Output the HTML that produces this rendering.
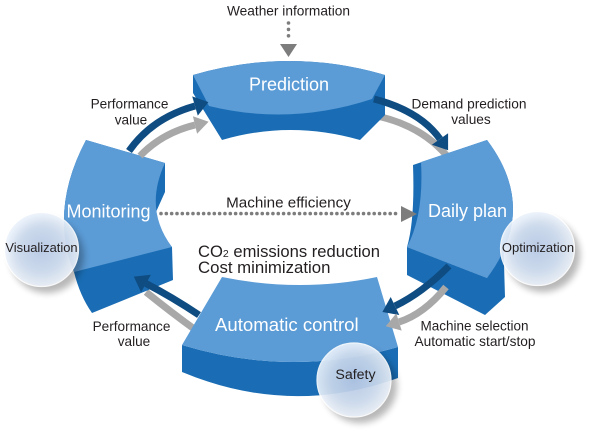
<!DOCTYPE html>
<html>
<head>
<meta charset="utf-8">
<style>
  html,body{margin:0;padding:0;background:#fff;}
  svg{display:block;}
  text{font-family:"Liberation Sans",Arial,sans-serif;}
</style>
</head>
<body>
<svg width="600" height="435" viewBox="0 0 600 435" xmlns="http://www.w3.org/2000/svg">
  <defs>
    <radialGradient id="cg" cx="50%" cy="50%" r="50%">
      <stop offset="0" stop-color="#bacdeb"/>
      <stop offset="0.6" stop-color="#cfdef2"/>
      <stop offset="1" stop-color="#edf3fb"/>
    </radialGradient>
    <filter id="sh" x="-50%" y="-50%" width="200%" height="200%">
      <feGaussianBlur stdDeviation="3.5"/>
    </filter>
  </defs>
  <rect width="600" height="435" fill="#ffffff"/>

  <!-- gray arrows behind blocks -->
  <path d="M372,115 Q420,124 447,156" fill="none" stroke="#a8a8a8" stroke-width="7"/>
  <path d="M197,331 Q172,313 146,292" fill="none" stroke="#a8a8a8" stroke-width="7"/>

  <!-- Prediction block -->
  <path d="M193,75 Q290,47 385,75 L385,115 L360,140 Q290,120 222,140 L193,93 Z" fill="#1a6db4"/>
  <path d="M193,75 Q290,47 385,75 L372,99 Q290,126 209,106 Z" fill="#5b9bd6"/>

  <!-- Monitoring block -->
  <path d="M86,140 L165,163 L165,192 L156,212 Q156,232 172,247 L173,280 L92,313 Q80,296 74,272 Q49,210 86,140 Z" fill="#1a6db4"/>
  <path d="M86,140 L165,163 Q143.5,209 172,247 L74,272 Q49,210 86,140 Z" fill="#5b9bd6"/>

  <!-- Daily plan block -->
  <path d="M413,165 L487,140 Q539,209 487,278 L407,247 Q415,220 413,165 Z" fill="#1a6db4"/>
  <path d="M407,247 L487,278 L503.6,250.4 L505,297 L485,315 L407,275 Z" fill="#1a6db4"/>
  <path d="M421,162 L487,140 Q539,209 487,278 L407,247 Q424,215 421,162 Z" fill="#5b9bd6"/>

  <!-- Automatic control block -->
  <path d="M182,345 Q290,378 398,347 L398,378 Q290,417 182,372 Z" fill="#1a6db4"/>
  <path d="M222,277 Q300.5,293 377,277 L398,347 Q290,378 182,345 Z" fill="#5b9bd6"/>

  <!-- arrows on top -->
  <!-- A dark -->
  <path d="M129,151 Q152,118 195,106" fill="none" stroke="#0e4c82" stroke-width="7"/>
  <polygon points="208.4,102.1 197.8,115.6 192.2,96.4" fill="#0e4c82"/>
  <!-- A gray -->
  <path d="M140,156 Q162,133 195,125" fill="none" stroke="#a8a8a8" stroke-width="7"/>
  <polygon points="208.6,121.7 197.1,133.7 192.9,116.3" fill="#a8a8a8"/>
  <!-- B dark -->
  <path d="M374,99 Q420,111 440,139" fill="none" stroke="#0e4c82" stroke-width="7"/>
  <polygon points="448.1,150.3 448.1,133.2 431.9,144.8" fill="#0e4c82"/>
  <!-- C dark -->
  <path d="M449,266 Q422,293 395,306" fill="none" stroke="#0e4c82" stroke-width="7"/>
  <polygon points="382.4,312 399.3,315 390.7,297" fill="#0e4c82"/>
  <!-- C gray -->
  <path d="M446,287 Q424,314 399,322" fill="none" stroke="#a8a8a8" stroke-width="7"/>
  <polygon points="385.7,326.3 401.7,330.6 396.3,313.4" fill="#a8a8a8"/>
  <!-- D dark -->
  <path d="M199,315 Q172,297 146,283.5" fill="none" stroke="#0e4c82" stroke-width="7"/>
  <polygon points="133.8,276.6 150.9,274.8 141.1,292.2" fill="#0e4c82"/>

  <!-- dotted arrows -->
  <line x1="161" y1="213.6" x2="398" y2="213.6" stroke="#7d7d7d" stroke-width="3.6" stroke-linecap="round" stroke-dasharray="0 5.33"/>
  <polygon points="401,206 401,222 417,214" fill="#7d7d7d"/>
  <line x1="288.5" y1="23" x2="288.5" y2="42" stroke="#7d7d7d" stroke-width="3.6" stroke-linecap="round" stroke-dasharray="0 6.4"/>
  <polygon points="280,44 297,44 288.5,57" fill="#7d7d7d"/>

  <!-- circles -->
  <circle cx="47" cy="256" r="37" fill="#000" opacity="0.28" filter="url(#sh)"/>
  <circle cx="41.5" cy="249.5" r="37" fill="url(#cg)" opacity="0.9" stroke="#ffffff" stroke-width="1.2"/>
  <circle cx="543" cy="255" r="37" fill="#000" opacity="0.28" filter="url(#sh)"/>
  <circle cx="537.5" cy="248.5" r="37" fill="url(#cg)" opacity="0.9" stroke="#ffffff" stroke-width="1.2"/>
  <circle cx="360" cy="386" r="37" fill="#000" opacity="0.28" filter="url(#sh)"/>
  <circle cx="354" cy="380" r="37" fill="url(#cg)" opacity="0.9" stroke="#ffffff" stroke-width="1.2"/>

  <!-- block labels -->
  <text x="289" y="90.5" font-size="18" fill="#ffffff" text-anchor="middle">Prediction</text>
  <text x="66.5" y="217.5" font-size="18" fill="#ffffff">Monitoring</text>
  <text x="428" y="217" font-size="18" fill="#ffffff">Daily plan</text>
  <text x="215" y="331" font-size="18.6" fill="#ffffff">Automatic control</text>

  <!-- other labels -->
  <g fill="#231f20">
    <text x="288.5" y="15.7" font-size="13.7" text-anchor="middle">Weather information</text>
    <text x="129.5" y="108.5" font-size="13.6" text-anchor="middle">Performance</text>
    <text x="131" y="124.5" font-size="13.6" text-anchor="middle">value</text>
    <text x="469" y="108.5" font-size="13.7" text-anchor="middle">Demand prediction</text>
    <text x="471" y="124" font-size="13.7" text-anchor="middle">values</text>
    <text x="288.5" y="207.3" font-size="15.2" text-anchor="middle">Machine efficiency</text>
    <text x="198" y="257" font-size="16.6">CO<tspan font-size="10.5">2</tspan> emissions reduction</text>
    <text x="198" y="273" font-size="16.8">Cost minimization</text>
    <text x="131.5" y="331" font-size="13.6" text-anchor="middle">Performance</text>
    <text x="134" y="346" font-size="13.6" text-anchor="middle">value</text>
    <text x="474.5" y="330.5" font-size="13.5" text-anchor="middle">Machine selection</text>
    <text x="475" y="346" font-size="13.7" text-anchor="middle">Automatic start/stop</text>
    <text x="41.5" y="252" font-size="12.9" text-anchor="middle">Visualization</text>
    <text x="538" y="252" font-size="13" text-anchor="middle">Optimization</text>
    <text x="355.5" y="379" font-size="14.2" text-anchor="middle">Safety</text>
  </g>
</svg>
</body>
</html>
